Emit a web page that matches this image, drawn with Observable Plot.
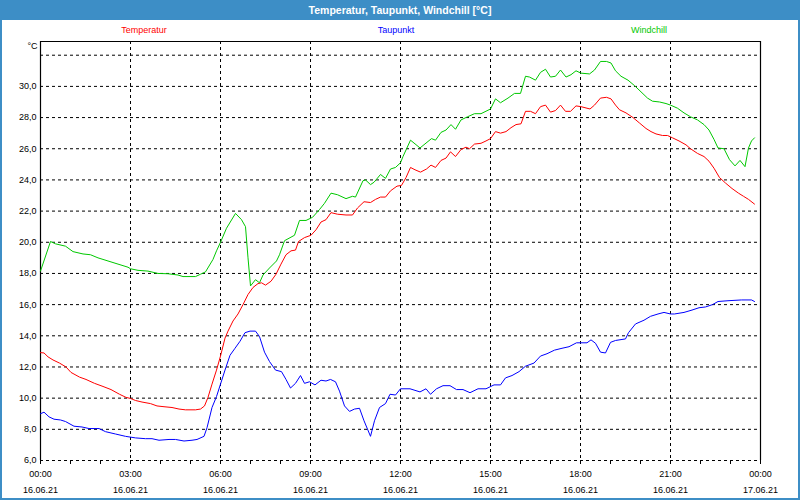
<!DOCTYPE html>
<html>
<head>
<meta charset="utf-8">
<script src="https://cdn.jsdelivr.net/npm/d3@7"></script>
<script src="https://cdn.jsdelivr.net/npm/@observablehq/plot@0.6"></script>
<style>
  html, body { margin: 0; padding: 0; background: #ffffff; }
  #wrap { position: relative; width: 800px; height: 500px; overflow: hidden; background: #ffffff;
          font-family: "Liberation Sans", Arial, sans-serif; }
  #title { position: absolute; left: 0; top: 0; width: 800px; height: 20px; background: #3d8ec6;
           color: #ffffff; font-weight: bold; font-size: 10.5px; line-height: 20px; text-align: center; }
  #chart { position: absolute; left: 0; top: 20px; }
  .leg { position: absolute; top: 25px; font-size: 9px; line-height: 11px; transform: translateX(-50%); white-space: nowrap; }
  #border { position: absolute; left: 0; top: 0; width: 800px; height: 500px; box-sizing: border-box;
            border-left: 2px solid #3d8ec6; border-right: 2px solid #3d8ec6; border-bottom: 2px solid #3d8ec6; pointer-events: none; }
</style>
</head>
<body>
<div id="wrap">
  <div id="title">Temperatur, Taupunkt, Windchill [°C]</div>
  <div id="legend"></div>
  <div id="chart"></div>
  <div id="border"></div>
</div>
<script>
// ---- series names & colours ----
const seriesNames = ["Temperatur", "Taupunkt", "Windchill"];
const seriesColors = ["#ff0000", "#0000ff", "#00c800"];

// ---- Temperatur ----
const tempTimes = ["0:00","0:07","0:15","0:25","0:38","0:51","1:01","1:18","1:31","1:48","2:05","2:21","2:38","2:51","3:00","3:10","3:23","3:40","3:53","4:07","4:23","4:37","4:50","5:10","5:20","5:28","5:35","5:43","5:52","6:00","6:09","6:15","6:25","6:35","6:45","6:55","7:05","7:15","7:22","7:30","7:41","7:51","8:01","8:11","8:21","8:30","8:36","8:48","9:01","9:11","9:21","9:31","9:41","9:54","10:11","10:24","10:34","10:47","11:00","11:10","11:20","11:30","11:40","11:53","12:02","12:11","12:20","12:29","12:40","12:52","13:01","13:10","13:21","13:31","13:40","13:50","14:01","14:11","14:18","14:28","14:41","14:51","15:00","15:10","15:20","15:31","15:41","15:51","16:01","16:10","16:20","16:30","16:40","16:50","17:00","17:10","17:20","17:30","17:40","17:51","18:01","18:19","18:28","18:40","18:52","19:01","19:10","19:18","19:31","19:45","19:58","20:11","20:21","20:31","20:44","20:54","21:04","21:17","21:31","21:40","21:54","22:07","22:17","22:27","22:38","22:50","23:03","23:16","23:26","23:36","23:48"];
const tempValues = [12.92,12.9,12.65,12.45,12.25,12.0,11.65,11.35,11.2,10.95,10.75,10.55,10.25,10.05,9.98,9.85,9.75,9.65,9.5,9.45,9.4,9.3,9.25,9.25,9.3,9.5,10.05,10.9,11.8,12.7,13.85,14.3,14.95,15.4,16.0,16.65,17.1,17.35,17.4,17.25,17.5,17.95,18.6,19.2,19.45,19.5,20.05,20.3,20.45,20.8,21.3,21.45,21.9,21.8,21.75,21.75,22.2,22.6,22.55,22.75,22.9,22.9,23.3,23.6,23.65,24.15,24.8,24.65,24.5,24.7,24.95,24.8,25.25,25.4,25.8,25.5,25.95,26.1,26.0,26.3,26.35,26.5,26.65,27.1,27.0,27.1,27.35,27.55,27.6,28.4,28.4,28.25,28.7,28.8,28.35,28.45,28.8,28.4,28.4,28.75,28.7,28.55,28.8,29.25,29.3,29.2,28.8,28.5,28.3,28.0,27.65,27.3,27.1,26.95,26.85,26.85,26.7,26.5,26.25,26.0,25.7,25.5,25.2,24.75,24.15,23.8,23.45,23.15,22.95,22.75,22.45];

// ---- Taupunkt ----
const dewTimes = ["0:00","0:07","0:17","0:27","0:40","0:50","1:07","1:23","1:37","1:57","2:10","2:30","2:50","3:10","3:30","3:43","3:57","4:17","4:30","4:47","5:03","5:13","5:27","5:33","5:43","5:52","6:00","6:09","6:19","6:29","6:39","6:49","6:59","7:10","7:18","7:28","7:38","7:50","8:02","8:11","8:20","8:30","8:40","8:48","8:58","9:09","9:21","9:31","9:40","9:50","9:58","10:08","10:18","10:28","10:38","10:47","11:00","11:08","11:18","11:30","11:39","11:50","12:00","12:19","12:39","12:51","13:00","13:12","13:25","13:39","13:52","14:05","14:19","14:35","14:51","15:07","15:20","15:30","15:43","15:57","16:10","16:27","16:40","16:53","17:08","17:23","17:37","17:52","18:13","18:21","18:30","18:40","18:50","19:00","19:10","19:30","19:36","19:50","20:07","20:20","20:35","20:47","21:00","21:08","21:27","21:43","21:57","22:10","22:24","22:35","22:55","23:22","23:42","23:48"];
const dewValues = [9.0,9.1,8.8,8.65,8.6,8.5,8.2,8.15,8.05,8.05,7.85,7.7,7.55,7.45,7.4,7.4,7.3,7.35,7.35,7.25,7.3,7.35,7.55,8.1,9.4,10.1,10.9,11.8,12.75,13.2,13.65,14.2,14.3,14.3,13.95,12.95,12.35,11.8,11.7,11.2,10.65,10.95,11.45,10.95,11.05,10.85,11.15,11.1,11.2,11.05,10.45,9.5,9.15,9.3,9.35,8.55,7.55,8.55,9.4,9.65,10.25,10.2,10.6,10.6,10.4,10.6,10.25,10.6,10.8,10.8,10.55,10.55,10.35,10.6,10.6,10.85,10.85,11.3,11.45,11.7,12.05,12.25,12.7,12.85,13.08,13.2,13.3,13.55,13.55,13.74,13.52,12.95,12.9,13.58,13.7,13.8,14.2,14.76,15.0,15.25,15.4,15.5,15.4,15.4,15.5,15.65,15.8,15.85,16.0,16.2,16.25,16.3,16.3,16.2];

// ---- Windchill ----
const chillTimes = ["0:00","0:20","0:30","0:50","1:05","1:25","1:40","1:55","2:15","2:35","2:55","3:00","3:15","3:35","3:55","4:15","4:35","4:45","5:10","5:20","5:30","5:45","5:52","6:00","6:12","6:30","6:42","6:50","6:55","7:00","7:10","7:18","7:25","7:38","7:52","7:58","8:08","8:28","8:38","8:51","9:04","9:18","9:28","9:41","9:54","10:11","10:24","10:30","10:45","10:50","11:00","11:07","11:20","11:30","11:40","11:50","12:00","12:05","12:20","12:39","13:02","13:10","13:21","13:31","13:41","13:50","14:01","14:14","14:28","14:41","15:00","15:10","15:20","15:35","15:48","16:00","16:10","16:18","16:30","16:40","16:50","17:00","17:10","17:20","17:31","17:41","17:51","18:01","18:18","18:28","18:40","18:52","19:01","19:10","19:21","19:35","19:48","20:01","20:14","20:24","20:38","20:51","21:00","21:14","21:27","21:40","21:54","22:07","22:17","22:27","22:35","22:47","22:58","23:09","23:19","23:29","23:36","23:42","23:48"];
const chillValues = [18.15,20.05,19.9,19.75,19.4,19.25,19.2,19.0,18.8,18.6,18.4,18.3,18.2,18.15,18.0,17.98,17.9,17.8,17.8,17.95,18.1,18.9,19.45,20.0,20.9,21.85,21.45,21.0,19.0,17.2,17.6,17.4,17.9,18.35,18.8,19.2,20.1,20.45,21.4,21.4,21.6,22.1,22.5,23.15,23.05,22.8,22.95,22.9,23.95,24.0,23.7,23.85,24.35,24.1,24.7,24.8,25.1,25.5,26.55,26.05,26.65,26.55,27.05,27.2,27.55,27.25,27.85,28.05,28.25,28.25,28.55,29.2,28.95,29.25,29.55,29.55,30.65,30.6,30.4,30.9,31.1,30.6,30.65,31.05,30.6,30.75,31.0,30.85,30.8,31.05,31.6,31.6,31.5,31.0,30.65,30.4,30.05,29.65,29.25,29.05,29.0,28.9,28.8,28.6,28.3,28.05,27.85,27.55,27.2,26.6,26.05,26.0,25.3,24.9,25.25,24.85,26.05,26.5,26.7];

// ---- axes ----
const yTickValues = [6, 8, 10, 12, 14, 16, 18, 20, 22, 24, 26, 28, 30];
const yGridValues = [6, 8, 10, 12, 14, 16, 18, 20, 22, 24, 26, 28, 30, 32];
const yDomain = [6, 32.88];
const xLabelHours = [0, 3, 6, 9, 12, 15, 18, 21, 24];
const xGridHours = [3, 6, 9, 12, 15, 18, 21];
const yUnit = "°C";

const day0 = Date.UTC(2021, 5, 16);
const toDate = s => { const [h, m] = s.split(":").map(Number); return new Date(day0 + (h * 60 + m) * 60000); };
const hourDate = h => new Date(day0 + h * 3600000);
const xDomain = [hourDate(0), hourDate(24)];
const hourTicks = d3.utcHours(xDomain[0], new Date(+xDomain[1] + 1));

const rows = [];
[[tempTimes, tempValues], [dewTimes, dewValues], [chillTimes, chillValues]].forEach(([ts, vs], i) => {
  ts.forEach((t, j) => rows.push({series: seriesNames[i], time: toDate(t), value: vs[j]}));
});

const pad = n => String(n).padStart(2, "0");
const fmtX = d => `${pad(d.getUTCHours())}:${pad(d.getUTCMinutes())}\n${pad(d.getUTCDate())}.${pad(d.getUTCMonth() + 1)}.${String(d.getUTCFullYear()).slice(2)}`;
const fmtY = v => v.toFixed(1).replace(".", ",");

const dash = {stroke: "black", strokeOpacity: 1, strokeWidth: 1, strokeDasharray: "3,3"};

const chart = Plot.plot({
  width: 800,
  height: 480,
  marginLeft: 40,
  marginRight: 40,
  marginTop: 21,
  marginBottom: 40,
  style: {background: "transparent", fontFamily: "'Liberation Sans', Arial, sans-serif", fontSize: "9px", color: "black", overflow: "visible"},
  x: {type: "utc", domain: xDomain},
  y: {domain: yDomain},
  color: {domain: seriesNames, range: seriesColors},
  marks: [
    Plot.gridY(yGridValues, dash),
    Plot.gridX(xGridHours.map(hourDate), dash),
    Plot.ruleX([xDomain[0], xDomain[1]], {stroke: "black", strokeWidth: 1.2}),
    Plot.ruleY([yDomain[1]], {stroke: "black", strokeWidth: 1.2}),
    Plot.axisY(yTickValues, {tickSize: 0, tickPadding: 4, tickFormat: fmtY, label: null}),
    Plot.axisX(hourTicks, {tickSize: 4, tickFormat: () => "", label: null}),
    Plot.axisX(xLabelHours.map(hourDate), {tickSize: 0, tickPadding: 5.5, tickFormat: fmtX, lineHeight: 1.75, label: null}),
    Plot.text([yUnit], {frameAnchor: "top-left", text: d => d, textAnchor: "end", lineAnchor: "top", dx: -3, dy: 1, fill: "black"}),
    Plot.line(rows, {x: "time", y: "value", z: "series", stroke: "series", strokeWidth: 1})
  ]
});
document.getElementById("chart").appendChild(chart);

// legend (HTML above the plot)
const legendX = [144, 396, 649];
const legend = document.getElementById("legend");
seriesNames.forEach((name, i) => {
  const s = document.createElement("span");
  s.className = "leg";
  s.style.left = legendX[i] + "px";
  s.style.color = seriesColors[i];
  s.textContent = name;
  legend.appendChild(s);
});
</script>
</body>
</html>
